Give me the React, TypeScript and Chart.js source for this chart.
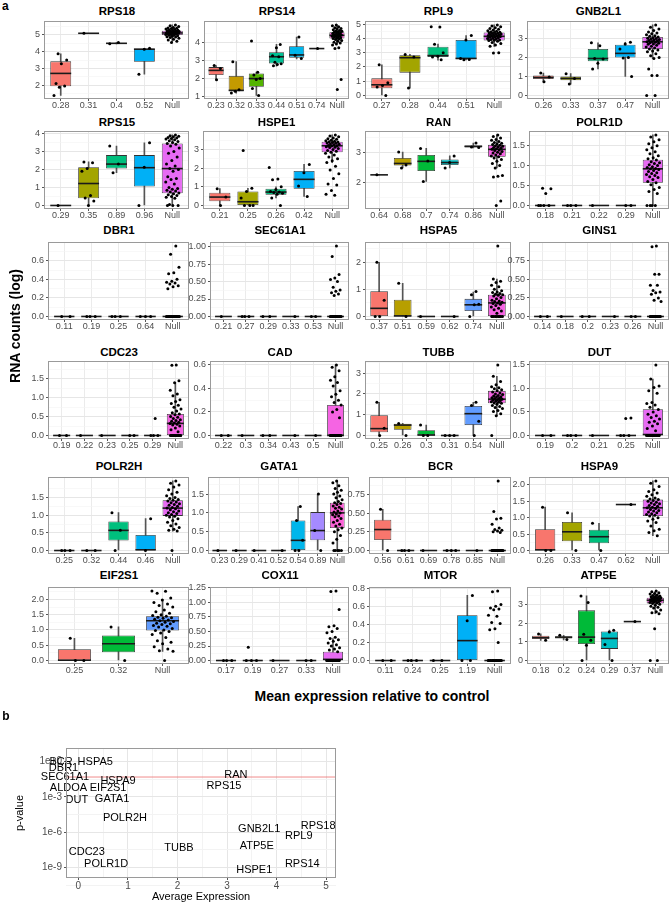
import React, { useEffect, useRef } from 'react';
import { Chart, registerables } from 'chart.js';
Chart.register(...registerables);

const FONT = "'Liberation Sans', Arial, Helvetica, sans-serif";

// ---------------- panel a data ----------------
const RPS18_groups = ['0.28', '0.31', '0.4', '0.52', 'Null'];
const RPS18_ticks = [2, 3, 4, 5];
const RPS18_boxes = [[1.38, 1.93, 2.7, 3.42, 3.87], [5.1, 5.1, 5.1, 5.1, 5.1], [4.47, 4.49, 4.5, 4.52, 4.55], [2.65, 3.4, 4.15, 4.17, 4.2], [4.6, 5.0, 5.12, 5.25, 5.6]];
const RPS18_points = [[3.87, 3.5, 3.28, 2.1, 1.95, 1.87, 1.38], [5.1], [4.47, 4.55], [4.2, 4.15, 2.65],
  [5.6, 5.55, 5.5, 5.45, 5.42, 5.4, 5.38, 5.35, 5.33, 5.3, 5.28, 5.27, 5.25, 5.24, 5.22, 5.2, 5.19, 5.18, 5.16, 5.15, 5.13, 5.12, 5.11, 5.1, 5.08, 5.07, 5.05, 5.03, 5.02, 5.0, 4.98, 4.95, 4.92, 4.9, 4.88, 4.85, 4.8, 4.75, 4.7, 4.62, 4.55]];

const RPS14_groups = ['0.23', '0.32', '0.33', '0.44', '0.51', '0.74', 'Null'];
const RPS14_ticks = [1, 2, 3, 4];
const RPS14_boxes = [[1.93, 2.2, 2.45, 2.63, 2.72], [1.2, 1.3, 1.35, 2.15, 2.93], [1.07, 1.55, 2.0, 2.28, 2.35], [2.68, 2.83, 3.2, 3.45, 3.88], [3.08, 3.15, 3.3, 3.78, 4.28], [3.65, 3.65, 3.65, 3.65, 3.65], [3.9, 4.2, 4.38, 4.55, 4.95]];
const RPS14_points = [[2.72, 2.55, 1.93], [2.93, 1.38, 1.3, 1.2], [4.07, 2.35, 2.2, 2.0, 1.95, 1.45, 1.07], [3.88, 3.7, 3.25, 3.2, 2.9, 2.82, 2.78, 2.7], [4.28, 3.28, 3.1], [3.65],
  [4.95, 4.9, 4.85, 4.8, 4.75, 4.72, 4.68, 4.65, 4.62, 4.6, 4.57, 4.55, 4.52, 4.5, 4.48, 4.45, 4.43, 4.4, 4.39, 4.38, 4.36, 4.35, 4.33, 4.3, 4.28, 4.25, 4.22, 4.2, 4.17, 4.15, 4.1, 4.05, 4.0, 3.95, 3.9, 3.85, 3.7, 3.65, 1.95, 1.4]];

const RPL9_groups = ['0.27', '0.28', '0.44', '0.51', 'Null'];
const RPL9_ticks = [0, 1, 2, 3, 4, 5];
const RPL9_boxes = [[0, 0.5, 0.75, 1.2, 2.15], [0.52, 1.6, 2.65, 2.82, 2.88], [2.48, 2.7, 2.8, 3.42, 3.6], [2.5, 2.55, 2.6, 3.9, 4.2], [3.45, 3.85, 4.15, 4.42, 4.95]];
const RPL9_points = [[2.15, 0.9, 0.7, 0.6, 0], [2.88, 2.7, 0.52], [4.82, 4.8, 3.6, 3.0, 2.75, 2.7, 2.5], [4.2, 3.9, 2.6, 2.52, 2.5],
  [4.95, 4.88, 4.82, 4.75, 4.7, 4.65, 4.6, 4.55, 4.5, 4.47, 4.44, 4.42, 4.4, 4.37, 4.35, 4.32, 4.3, 4.27, 4.25, 4.22, 4.2, 4.18, 4.15, 4.13, 4.1, 4.08, 4.05, 4.02, 4.0, 3.97, 3.93, 3.9, 3.87, 3.85, 3.8, 3.72, 3.65, 3.55, 3.45, 3.0, 2.98]];

const GNB2L1_groups = ['0.26', '0.33', '0.37', '0.47', 'Null'];
const GNB2L1_ticks = [0, 1, 2, 3];
const GNB2L1_boxes = [[0.72, 0.87, 0.95, 1.05, 1.18], [0.6, 0.8, 0.9, 1.0, 1.15], [1.4, 1.8, 1.95, 2.45, 2.78], [1.0, 2.0, 2.22, 2.68, 2.8], [1.95, 2.45, 2.83, 3.08, 3.72]];
const GNB2L1_points = [[1.18, 0.97, 0.72], [1.15, 0.9, 0.6], [2.78, 2.62, 1.95, 1.92, 1.7, 1.4], [2.8, 2.72, 2.45, 2.0, 1.97, 1.0],
  [3.72, 3.6, 3.5, 3.42, 3.35, 3.3, 3.25, 3.2, 3.15, 3.12, 3.08, 3.05, 3.02, 3.0, 2.97, 2.95, 2.92, 2.9, 2.88, 2.85, 2.83, 2.8, 2.78, 2.75, 2.72, 2.7, 2.65, 2.6, 2.55, 2.5, 2.45, 2.4, 2.35, 2.3, 2.2, 2.1, 2.0, 1.95, 1.4, 1.05, 1.05, 0, 0]];

const RPS15_groups = ['0.29', '0.35', '0.89', '0.96', 'Null'];
const RPS15_ticks = [0, 1, 2, 3, 4];
const RPS15_boxes = [[0, 0, 0, 0, 0], [0, 0.4, 1.22, 2.13, 2.42], [1.82, 2.05, 2.3, 2.8, 3.3], [0, 1.05, 2.1, 2.8, 3.48], [0, 0.68, 2.05, 3.45, 3.92]];
const RPS15_points = [[0], [2.42, 2.38, 2.05, 1.9, 0.55, 0.42, 0.25, 0], [3.3, 2.3, 1.82], [3.48, 2.12, 0],
  [3.92, 3.88, 3.85, 3.82, 3.78, 3.75, 3.72, 3.7, 3.65, 3.6, 3.55, 3.5, 3.45, 3.4, 3.3, 3.2, 3.0, 2.9, 2.7, 2.5, 2.3, 2.2, 2.05, 2.0, 1.9, 1.6, 1.5, 1.45, 1.3, 1.2, 1.0, 0.95, 0.9, 0.85, 0.8, 0.75, 0.7, 0.65, 0.6, 0.55, 0.5, 0.45, 0.4, 0.05, 0, 0, 0]];

const HSPE1_groups = ['0.21', '0.25', '0.26', '0.42', 'Null'];
const HSPE1_ticks = [0, 1, 2, 3];
const HSPE1_boxes = [[0, 0.22, 0.45, 0.68, 0.9], [0, 0, 0.2, 0.75, 0.92], [0.4, 0.57, 0.72, 0.9, 1.0], [0.48, 0.9, 1.4, 1.85, 2.2], [2.3, 2.85, 3.2, 3.42, 3.78]];
const HSPE1_points = [[0.9, 0.45, 0], [2.95, 0.92, 0.75, 0.4, 0, 0, 0], [2.03, 1.42, 1.38, 1.0, 0.85, 0.75, 0.72, 0.7, 0.65, 0.6, 0.4, 0], [2.2, 1.75, 1.05, 0.48],
  [3.78, 3.72, 3.68, 3.62, 3.58, 3.55, 3.5, 3.47, 3.44, 3.42, 3.4, 3.37, 3.35, 3.33, 3.3, 3.28, 3.25, 3.22, 3.2, 3.18, 3.15, 3.12, 3.1, 3.05, 3.0, 2.95, 2.9, 2.85, 2.8, 2.7, 2.6, 2.5, 2.4, 2.3, 2.1, 1.9, 1.7, 1.45, 1.15, 1.1, 0.8, 0.6, 0.55]];

const RAN_groups = ['0.64', '0.68', '0.7', '0.74', '0.86', 'Null'];
const RAN_ticks = [2, 3];
const RAN_boxes = [[2.27, 2.27, 2.27, 2.27, 2.27], [2.5, 2.58, 2.65, 2.83, 3.03], [2.05, 2.4, 2.72, 2.93, 3.15], [2.5, 2.6, 2.68, 2.78, 2.9], [3.17, 3.18, 3.22, 3.25, 3.33], [2.5, 2.87, 3.12, 3.27, 3.6]];
const RAN_points = [[2.27], [3.03, 2.6, 2.5], [3.15, 2.73, 2.05], [2.9, 2.68, 2.5], [3.33, 3.2, 3.18],
  [3.6, 3.55, 3.5, 3.45, 3.42, 3.38, 3.35, 3.32, 3.3, 3.28, 3.26, 3.24, 3.22, 3.2, 3.18, 3.16, 3.14, 3.12, 3.1, 3.08, 3.05, 3.02, 3.0, 2.97, 2.93, 2.9, 2.87, 2.83, 2.78, 2.72, 2.65, 2.58, 2.5, 2.25, 2.22, 2.2, 1.4, 1.25]];

const POLR1D_groups = ['0.18', '0.21', '0.22', '0.29', 'Null'];
const POLR1D_ticks = [0, 0.5, 1, 1.5];
const POLR1D_boxes = [[0, 0, 0, 0, 0], [0, 0, 0, 0, 0], [0, 0, 0, 0, 0], [0, 0, 0, 0, 0], [0, 0.57, 0.92, 1.15, 1.77]];
const POLR1D_points = [[0.43, 0.42, 0.3, 0, 0, 0, 0], [0, 0, 0], [0], [0, 0],
  [1.77, 1.72, 1.65, 1.6, 1.55, 1.5, 1.45, 1.4, 1.35, 1.3, 1.25, 1.2, 1.17, 1.14, 1.1, 1.07, 1.05, 1.02, 1.0, 0.97, 0.95, 0.93, 0.92, 0.9, 0.88, 0.85, 0.82, 0.8, 0.78, 0.75, 0.72, 0.7, 0.65, 0.6, 0.57, 0.52, 0.45, 0.4, 0.35, 0.3, 0, 0, 0, 0]];

const DBR1_groups = ['0.11', '0.19', '0.25', '0.64', 'Null'];
const DBR1_ticks = [0, 0.2, 0.4, 0.6, 0.8];
const DBR1_boxes = [[0, 0, 0, 0, 0], [0, 0, 0, 0, 0], [0, 0, 0, 0, 0], [0, 0, 0, 0, 0], [0, 0, 0, 0, 0]];
const DBR1_points = [[0, 0], [0, 0, 0], [0, 0, 0], [0, 0, 0],
  [0.76, 0.67, 0.53, 0.47, 0.46, 0.4, 0.38, 0.37, 0.36, 0.35, 0.33, 0.32, 0.3, 0, 0, 0, 0, 0, 0, 0, 0, 0, 0, 0, 0, 0, 0, 0, 0, 0, 0]];

const SEC61A1_groups = ['0.21', '0.27', '0.29', '0.33', '0.53', 'Null'];
const SEC61A1_ticks = [0, 0.25, 0.5, 0.75, 1];
const SEC61A1_boxes = [[0, 0, 0, 0, 0], [0, 0, 0, 0, 0], [0, 0, 0, 0, 0], [0, 0, 0, 0, 0], [0, 0, 0, 0, 0], [0, 0, 0, 0, 0]];
const SEC61A1_points = [[0], [0, 0, 0], [0, 0], [0], [0, 0],
  [1.01, 0.86, 0.6, 0.55, 0.53, 0.5, 0.42, 0.38, 0.36, 0.34, 0.32, 0.3, 0, 0, 0, 0, 0, 0, 0, 0, 0, 0, 0, 0, 0, 0, 0, 0, 0, 0]];

const HSPA5_groups = ['0.37', '0.51', '0.59', '0.62', '0.74', 'Null'];
const HSPA5_ticks = [0, 1, 2];
const HSPA5_boxes = [[0, 0, 0.3, 0.93, 2.0], [0, 0, 0.02, 0.62, 1.22], [0, 0, 0, 0, 0], [0, 0, 0, 0, 0], [0, 0.2, 0.43, 0.65, 0.9], [0, 0, 0.5, 0.8, 1.38]];
const HSPA5_points = [[2.0, 0.6, 0, 0], [1.22, 0], [0], [0], [0.92, 0.8, 0.45, 0.43, 0],
  [2.6, 1.38, 1.3, 1.25, 1.15, 1.1, 1.0, 0.95, 0.9, 0.88, 0.85, 0.82, 0.8, 0.78, 0.75, 0.7, 0.65, 0.6, 0.57, 0.55, 0.52, 0.5, 0.48, 0.45, 0.4, 0.35, 0.3, 0.25, 0.2, 0.12, 0, 0, 0, 0, 0, 0, 0, 0, 0, 0]];

const GINS1_groups = ['0.14', '0.18', '0.2', '0.23', '0.26', 'Null'];
const GINS1_ticks = [0, 0.25, 0.5, 0.75, 1];
const GINS1_boxes = [[0, 0, 0, 0, 0], [0, 0, 0, 0, 0], [0, 0, 0, 0, 0], [0, 0, 0, 0, 0], [0, 0, 0, 0, 0], [0, 0, 0, 0, 0]];
const GINS1_points = [[0, 0], [0], [0, 0], [0], [0, 0],
  [0.95, 0.94, 0.57, 0.57, 0.42, 0.42, 0.35, 0.33, 0.32, 0.3, 0.25, 0.22, 0.2, 0, 0, 0, 0, 0, 0, 0, 0, 0, 0, 0, 0, 0, 0, 0, 0, 0]];

const CDC23_groups = ['0.19', '0.22', '0.23', '0.25', '0.29', 'Null'];
const CDC23_ticks = [0, 0.5, 1, 1.5];
const CDC23_boxes = [[0, 0, 0, 0, 0], [0, 0, 0, 0, 0], [0, 0, 0, 0, 0], [0, 0, 0, 0, 0], [0, 0, 0, 0, 0], [0, 0, 0.32, 0.57, 1.4]];
const CDC23_points = [[0, 0], [0], [0], [0, 0], [0.45, 0, 0, 0],
  [1.87, 1.86, 1.45, 1.4, 1.2, 1.1, 1.05, 0.95, 0.9, 0.85, 0.8, 0.75, 0.7, 0.65, 0.6, 0.57, 0.55, 0.5, 0.48, 0.45, 0.42, 0.4, 0.38, 0.35, 0.33, 0.32, 0.3, 0.28, 0.25, 0.2, 0.15, 0.1, 0, 0, 0, 0, 0, 0, 0, 0, 0, 0, 0, 0, 0, 0]];

const CAD_groups = ['0.22', '0.3', '0.34', '0.43', '0.5', 'Null'];
const CAD_ticks = [0, 0.2, 0.4, 0.6];
const CAD_boxes = [[0, 0, 0, 0, 0], [0, 0, 0, 0, 0], [0, 0, 0, 0, 0], [0, 0, 0, 0, 0], [0, 0, 0, 0, 0], [0, 0, 0, 0.26, 0.6]];
const CAD_points = [[0, 0], [0], [0, 0], [0], [0],
  [0.6, 0.58, 0.55, 0.5, 0.47, 0.45, 0.42, 0.38, 0.35, 0.33, 0.3, 0.28, 0.26, 0.22, 0.2, 0.15, 0, 0, 0, 0, 0, 0, 0, 0, 0, 0, 0, 0, 0, 0, 0, 0, 0, 0, 0, 0]];

const TUBB_groups = ['0.25', '0.26', '0.3', '0.31', '0.54', 'Null'];
const TUBB_ticks = [0, 1, 2, 3];
const TUBB_boxes = [[0, 0.15, 0.33, 0.98, 1.6], [0, 0.27, 0.5, 0.57, 0.58], [0, 0, 0.02, 0.25, 0.5], [0, 0, 0, 0, 0], [0, 0.5, 1.05, 1.42, 1.6], [0.95, 1.55, 1.75, 2.15, 2.85]];
const TUBB_points = [[1.6, 0.35, 0], [0.58, 0], [0.5, 0, 0], [0, 0, 0], [1.6, 1.45, 0.68, 0],
  [3.4, 2.85, 2.6, 2.45, 2.35, 2.3, 2.25, 2.2, 2.15, 2.1, 2.05, 2.0, 1.97, 1.93, 1.9, 1.87, 1.85, 1.82, 1.8, 1.78, 1.75, 1.72, 1.7, 1.68, 1.65, 1.62, 1.6, 1.57, 1.55, 1.5, 1.45, 1.4, 1.35, 1.3, 1.2, 1.15, 1.05, 0.95, 0]];

const DUT_groups = ['0.19', '0.2', '0.21', '0.25', 'Null'];
const DUT_ticks = [0, 0.5, 1, 1.5];
const DUT_boxes = [[0, 0, 0, 0, 0], [0, 0, 0, 0, 0], [0, 0, 0, 0, 0], [0, 0, 0, 0, 0], [0, 0, 0.02, 0.56, 1.2]];
const DUT_points = [[0, 0], [0, 0, 0], [0], [0.37, 0.36, 0, 0, 0],
  [1.5, 1.2, 1.05, 1.02, 0.95, 0.9, 0.7, 0.68, 0.65, 0.6, 0.55, 0.5, 0.45, 0.42, 0.38, 0.35, 0.3, 0.28, 0.25, 0.2, 0.15, 0.1, 0, 0, 0, 0, 0, 0, 0, 0, 0, 0, 0, 0, 0, 0, 0, 0]];

const POLR2H_groups = ['0.25', '0.32', '0.44', '0.46', 'Null'];
const POLR2H_ticks = [0, 0.5, 1, 1.5];
const POLR2H_boxes = [[0, 0, 0, 0, 0], [0, 0, 0, 0, 0], [0, 0.28, 0.57, 0.82, 1.07], [0, 0, 0.02, 0.44, 0.9], [0.55, 0.98, 1.2, 1.42, 1.97]];
const POLR2H_points = [[0, 0, 0], [0, 0], [1.07, 0.57, 0], [0.9, 0],
  [1.97, 1.9, 1.85, 1.8, 1.72, 1.65, 1.6, 1.55, 1.5, 1.47, 1.44, 1.42, 1.4, 1.37, 1.35, 1.32, 1.3, 1.28, 1.25, 1.22, 1.2, 1.18, 1.15, 1.12, 1.1, 1.07, 1.05, 1.02, 1.0, 0.97, 0.95, 0.9, 0.85, 0.8, 0.75, 0.7, 0.65, 0.6, 0.57, 0.55, 0]];

const GATA1_groups = ['0.23', '0.29', '0.41', '0.52', '0.54', '0.89', 'Null'];
const GATA1_ticks = [0, 0.5, 1, 1.5];
const GATA1_boxes = [[0, 0, 0, 0, 0], [0, 0, 0, 0, 0], [0, 0, 0, 0, 0], [0, 0, 0, 0, 0], [0, 0, 0.27, 0.8, 1.17], [0, 0.27, 0.53, 1.02, 1.5], [0, 0.6, 1.0, 1.27, 1.85]];
const GATA1_points = [[0], [0], [0], [0], [1.17, 0.8, 0.27, 0, 0], [1.5, 0.53, 0],
  [1.85, 1.8, 1.72, 1.65, 1.6, 1.55, 1.5, 1.45, 1.4, 1.35, 1.3, 1.27, 1.25, 1.22, 1.18, 1.15, 1.12, 1.1, 1.05, 1.02, 1.0, 0.97, 0.95, 0.92, 0.9, 0.85, 0.8, 0.75, 0.7, 0.65, 0.6, 0.55, 0.5, 0.4, 0.3, 0.2, 0, 0, 0, 0, 0]];

const BCR_groups = ['0.56', '0.61', '0.69', '0.78', '0.85', 'Null'];
const BCR_ticks = [0, 0.25, 0.5, 0.75];
const BCR_boxes = [[0, 0.14, 0.28, 0.41, 0.55], [0, 0, 0, 0, 0], [0, 0, 0, 0, 0], [0, 0, 0, 0, 0], [0, 0, 0, 0, 0], [0, 0, 0, 0, 0]];
const BCR_points = [[0.55, 0], [0, 0, 0], [0], [0, 0, 0], [0],
  [0.93, 0.52, 0.43, 0.42, 0.35, 0.3, 0.28, 0.27, 0.26, 0.25, 0.24, 0, 0, 0, 0, 0, 0, 0, 0, 0, 0, 0, 0, 0, 0, 0, 0, 0, 0, 0, 0]];

const HSPA9_groups = ['0.26', '0.33', '0.47', '0.62', 'Null'];
const HSPA9_ticks = [0, 0.5, 1, 1.5, 2];
const HSPA9_boxes = [[0, 0, 0.02, 0.65, 1.32], [0, 0.28, 0.57, 0.87, 1.15], [0, 0.22, 0.42, 0.63, 0.83], [1.4, 1.4, 1.4, 1.4, 1.4], [0.45, 1.05, 1.3, 1.55, 2.12]];
const HSPA9_points = [[1.32, 0, 0], [1.15, 0], [0.83, 0], [1.4],
  [2.12, 2.05, 1.95, 1.85, 1.8, 1.75, 1.7, 1.65, 1.6, 1.57, 1.55, 1.52, 1.5, 1.47, 1.45, 1.42, 1.4, 1.37, 1.35, 1.32, 1.3, 1.28, 1.25, 1.22, 1.2, 1.17, 1.15, 1.12, 1.1, 1.07, 1.05, 1.0, 0.95, 0.9, 0.85, 0.75, 0.65, 0.6, 0.55, 0.45]];

const EIF2S1_groups = ['0.25', '0.32', 'Null'];
const EIF2S1_ticks = [0, 0.5, 1, 1.5, 2];
const EIF2S1_boxes = [[0, 0.01, 0.01, 0.37, 0.73], [0, 0.27, 0.55, 0.82, 1.1], [0.3, 0.98, 1.3, 1.45, 2.0]];
const EIF2S1_points = [[0.73, 0, 0], [1.1, 0],
  [2.28, 2.27, 2.2, 2.05, 1.98, 1.9, 1.85, 1.8, 1.75, 1.65, 1.6, 1.55, 1.5, 1.47, 1.45, 1.42, 1.4, 1.38, 1.35, 1.33, 1.3, 1.28, 1.25, 1.22, 1.2, 1.18, 1.15, 1.12, 1.1, 1.05, 1.0, 0.98, 0.95, 0.9, 0.85, 0.75, 0.65, 0.6, 0.55, 0.45, 0.38, 0.32, 0.3, 0]];

const COX11_groups = ['0.17', '0.19', '0.27', '0.33', 'Null'];
const COX11_ticks = [0, 0.25, 0.5, 0.75, 1, 1.25];
const COX11_boxes = [[0, 0, 0, 0, 0], [0, 0, 0, 0, 0], [0, 0, 0, 0, 0], [0, 0, 0, 0, 0], [0, 0, 0.02, 0.15, 0.38]];
const COX11_points = [[0, 0, 0], [0.23, 0, 0, 0], [0], [0, 0],
  [1.2, 1.19, 0.88, 0.6, 0.58, 0.55, 0.5, 0.48, 0.4, 0.38, 0.36, 0.33, 0.3, 0.27, 0.25, 0.22, 0.2, 0.18, 0.15, 0, 0, 0, 0, 0, 0, 0, 0, 0, 0, 0, 0, 0, 0, 0, 0, 0, 0, 0]];

const MTOR_groups = ['0.11', '0.24', '0.25', '1.19', 'Null'];
const MTOR_ticks = [0, 0.2, 0.4, 0.6, 0.8];
const MTOR_boxes = [[0, 0, 0, 0, 0], [0, 0, 0, 0, 0], [0, 0, 0, 0, 0], [0, 0, 0.22, 0.5, 0.72], [0, 0, 0, 0, 0]];
const MTOR_points = [[0, 0], [0, 0, 0], [0, 0], [0.72, 0.44, 0, 0],
  [0.77, 0.76, 0.62, 0.6, 0.58, 0.57, 0.56, 0.5, 0.49, 0.42, 0.41, 0.35, 0.34, 0.2, 0, 0, 0, 0, 0, 0, 0, 0, 0, 0, 0, 0, 0, 0, 0, 0]];

const ATP5E_groups = ['0.18', '0.2', '0.24', '0.29', '0.37', 'Null'];
const ATP5E_ticks = [0, 1, 2, 3];
const ATP5E_boxes = [[1.08, 1.15, 1.22, 1.32, 1.42], [1.1, 1.17, 1.25, 1.28, 1.35], [0, 0.88, 1.25, 2.68, 3.45], [0, 0.62, 1.18, 1.55, 1.62], [2.08, 2.08, 2.08, 2.08, 2.08], [2.5, 3.05, 3.22, 3.35, 3.7]];
const ATP5E_points = [[1.42, 1.08], [1.35, 1.12], [3.45, 3.1, 1.4, 1.08, 0.82, 0], [1.62, 1.52, 0.85, 0], [2.08],
  [3.72, 3.68, 3.62, 3.58, 3.55, 3.5, 3.47, 3.44, 3.42, 3.4, 3.38, 3.36, 3.35, 3.33, 3.31, 3.29, 3.27, 3.25, 3.23, 3.22, 3.2, 3.18, 3.16, 3.14, 3.12, 3.1, 3.07, 3.05, 3.0, 2.95, 2.9, 2.85, 2.8, 2.7, 2.6, 2.55, 2.5, 1.7, 0, 0]];

// ---------------- panel b data ----------------
const GENES_B = ['BCR', 'HSPA5', 'DBR1', 'SEC61A1', 'ALDOA', 'HSPA9', 'EIF2S1', 'RAN', 'RPS15', 'DUT', 'GATA1', 'POLR2H', 'GNB2L1', 'RPS18', 'RPL9', 'ATP5E', 'TUBB', 'CDC23', 'POLR1D', 'HSPE1', 'RPS14'];
const AVG_EXPR = [-0.35, 0.34, -0.3, -0.27, -0.2, 0.8, 0.6, 3.18, 2.94, -0.03, 0.68, 0.94, 3.65, 4.84, 4.45, 3.6, 2.03, 0.17, 0.56, 3.55, 4.52];
const P_VALUES = [1, 1, 0.32, 0.051, 0.0059, 0.023, 0.0059, 0.079, 0.0089, 5.6e-4, 6.8e-4, 1.6e-5, 1.8e-6, 3.3e-6, 4.6e-7, 6.3e-8, 4.3e-8, 2.0e-8, 1.8e-9, 5.6e-10, 1.8e-9];
const P_THRESHOLD = 0.05;
const X_TICKS_B = [0, 1, 2, 3, 4, 5];
const Y_TICKS_B = [1, 1e-3, 1e-6, 1e-9];

// ---------------- layout ----------------
const HUE: Record<number, string[]> = {
  3: ['#F8766D', '#00BA38', '#619CFF'],
  4: ['#F8766D', '#7CAE00', '#00BFC4', '#C77CFF'],
  5: ['#F8766D', '#A3A500', '#00BF7D', '#00B0F6', '#E76BF3'],
  6: ['#F8766D', '#B79F00', '#00BA38', '#00BFC4', '#619CFF', '#F564E3'],
  7: ['#F8766D', '#C49A00', '#53B400', '#00C094', '#00B6EB', '#A58AFF', '#FB61D7'],
};

type FacetDef = { title: string; groups: string[]; ticks: number[]; boxes: number[][]; points: number[][] };
const FACETS: FacetDef[] = [
  { title: 'RPS18', groups: RPS18_groups, ticks: RPS18_ticks, boxes: RPS18_boxes, points: RPS18_points },
  { title: 'RPS14', groups: RPS14_groups, ticks: RPS14_ticks, boxes: RPS14_boxes, points: RPS14_points },
  { title: 'RPL9', groups: RPL9_groups, ticks: RPL9_ticks, boxes: RPL9_boxes, points: RPL9_points },
  { title: 'GNB2L1', groups: GNB2L1_groups, ticks: GNB2L1_ticks, boxes: GNB2L1_boxes, points: GNB2L1_points },
  { title: 'RPS15', groups: RPS15_groups, ticks: RPS15_ticks, boxes: RPS15_boxes, points: RPS15_points },
  { title: 'HSPE1', groups: HSPE1_groups, ticks: HSPE1_ticks, boxes: HSPE1_boxes, points: HSPE1_points },
  { title: 'RAN', groups: RAN_groups, ticks: RAN_ticks, boxes: RAN_boxes, points: RAN_points },
  { title: 'POLR1D', groups: POLR1D_groups, ticks: POLR1D_ticks, boxes: POLR1D_boxes, points: POLR1D_points },
  { title: 'DBR1', groups: DBR1_groups, ticks: DBR1_ticks, boxes: DBR1_boxes, points: DBR1_points },
  { title: 'SEC61A1', groups: SEC61A1_groups, ticks: SEC61A1_ticks, boxes: SEC61A1_boxes, points: SEC61A1_points },
  { title: 'HSPA5', groups: HSPA5_groups, ticks: HSPA5_ticks, boxes: HSPA5_boxes, points: HSPA5_points },
  { title: 'GINS1', groups: GINS1_groups, ticks: GINS1_ticks, boxes: GINS1_boxes, points: GINS1_points },
  { title: 'CDC23', groups: CDC23_groups, ticks: CDC23_ticks, boxes: CDC23_boxes, points: CDC23_points },
  { title: 'CAD', groups: CAD_groups, ticks: CAD_ticks, boxes: CAD_boxes, points: CAD_points },
  { title: 'TUBB', groups: TUBB_groups, ticks: TUBB_ticks, boxes: TUBB_boxes, points: TUBB_points },
  { title: 'DUT', groups: DUT_groups, ticks: DUT_ticks, boxes: DUT_boxes, points: DUT_points },
  { title: 'POLR2H', groups: POLR2H_groups, ticks: POLR2H_ticks, boxes: POLR2H_boxes, points: POLR2H_points },
  { title: 'GATA1', groups: GATA1_groups, ticks: GATA1_ticks, boxes: GATA1_boxes, points: GATA1_points },
  { title: 'BCR', groups: BCR_groups, ticks: BCR_ticks, boxes: BCR_boxes, points: BCR_points },
  { title: 'HSPA9', groups: HSPA9_groups, ticks: HSPA9_ticks, boxes: HSPA9_boxes, points: HSPA9_points },
  { title: 'EIF2S1', groups: EIF2S1_groups, ticks: EIF2S1_ticks, boxes: EIF2S1_boxes, points: EIF2S1_points },
  { title: 'COX11', groups: COX11_groups, ticks: COX11_ticks, boxes: COX11_boxes, points: COX11_points },
  { title: 'MTOR', groups: MTOR_groups, ticks: MTOR_ticks, boxes: MTOR_boxes, points: MTOR_points },
  { title: 'ATP5E', groups: ATP5E_groups, ticks: ATP5E_ticks, boxes: ATP5E_boxes, points: ATP5E_points },
];

const COL_RIGHT = [190, 350, 512, 670];
const PANEL_LEFT = [
  [44, 204, 365, 527],
  [44, 203, 365, 529],
  [48, 210, 365, 529],
  [48, 210, 365, 529],
  [48, 208, 369, 529],
  [48, 210, 369, 527],
];
const ROW_TOP = [20, 130, 241, 360, 476, 586];
const ROW_BOTTOM = [99, 209, 320, 439, 554, 664];
const ROW_TITLE = [12, 123, 231, 353, 467, 576];

const jit = (k: number) => ((((k + 0.5) * 0.6180339887) % 1) - 0.5) * 0.5;

function Facet({ f, left, right, top, bottom }: { f: FacetDef; left: number; right: number; top: number; bottom: number }) {
  const ref = useRef<HTMLCanvasElement>(null);
  const AX = 30, PADT = 6, XH = 14, PADR = 3;
  const w = right - left + AX + PADR;
  const h = bottom - top + PADT + XH;
  useEffect(() => {
    const n = f.groups.length;
    const colors = HUE[n];
    const vals = [...f.points.flat(), ...f.boxes.flat()];
    const lo = Math.min(...vals), hi = Math.max(...vals);
    const span = hi - lo || 1;
    const ymin = lo - span * 0.05, ymax = hi + span * 0.05;
    const dec = Math.max(...f.ticks.map((t) => (String(t).split('.')[1] || '').length));
    const majors = f.ticks.filter((t) => t >= ymin - 1e-9 && t <= ymax + 1e-9);
    const step = f.ticks[1] - f.ticks[0];
    const minors: number[] = [];
    for (let i = -1; i < f.ticks.length; i++) {
      const m = i < 0 ? f.ticks[0] - step / 2 : f.ticks[i] + step / 2;
      if (m > ymin && m < ymax) minors.push(m);
    }
    const isMajor = (v: number) => majors.some((t) => Math.abs(t - v) < 1e-9);
    const pts: { x: number; y: number }[] = [];
    f.points.forEach((arr, gi) => arr.forEach((y, k) => pts.push({ x: gi + jit(k + gi * 3), y })));

    const boxPlugin = {
      id: 'boxExtras',
      afterDatasetDraw(chart: any, args: any) {
        if (args.index !== 1) return;
        const ctx = chart.ctx;
        const ys = chart.scales.y;
        ctx.save();
        ctx.strokeStyle = '#1a1a1a';
        ctx.lineWidth = 1.6;
        args.meta.data.forEach((el: any, i: number) => {
          const p = el.getProps(['x', 'width'], true);
          const y = ys.getPixelForValue(f.boxes[i][2]);
          ctx.beginPath();
          ctx.moveTo(p.x - p.width / 2, y);
          ctx.lineTo(p.x + p.width / 2, y);
          ctx.stroke();
        });
        ctx.restore();
      },
      afterDraw(chart: any) {
        const { left: l, top: t, right: r, bottom: b } = chart.chartArea;
        const ctx = chart.ctx;
        ctx.save();
        ctx.strokeStyle = '#9a9a9a';
        ctx.lineWidth = 1;
        ctx.strokeRect(Math.round(l) + 0.5, Math.round(t) + 0.5, Math.round(r - l) - 1, Math.round(b - t) - 1);
        ctx.restore();
      },
    };

    const tickFont = { size: 9, family: FONT };
    const chart = new Chart(ref.current as HTMLCanvasElement, {
      type: 'bar',
      data: {
        datasets: [
          { type: 'scatter', data: pts, backgroundColor: '#000', pointRadius: 1.5, pointBorderWidth: 0, order: 0 } as any,
          {
            type: 'bar', data: f.boxes.map((b, i) => ({ x: i, y: [b[1], b[3]] })), backgroundColor: colors,
            borderColor: '#333333', borderWidth: 0.8, borderSkipped: false, grouped: false,
            categoryPercentage: 1, barPercentage: 0.75, order: 1,
          } as any,
          {
            type: 'bar', data: f.boxes.map((b, i) => ({ x: i, y: [b[0], b[4]] })), backgroundColor: '#555555',
            barThickness: 1, grouped: false, order: 2,
          } as any,
        ],
      },
      options: {
        animation: false, responsive: false, events: [],
        layout: { padding: { top: PADT, right: PADR, left: 0, bottom: 0 } },
        plugins: { legend: { display: false }, tooltip: { enabled: false }, title: { display: false } },
        scales: {
          x: {
            type: 'linear', min: -0.6, max: n - 0.4, offset: false,
            afterBuildTicks: (s: any) => { s.ticks = f.groups.map((_, i) => ({ value: i })); },
            afterFit: (s: any) => { s.height = XH; },
            ticks: { callback: (v: any) => f.groups[Math.round(v)] ?? '', font: tickFont, color: '#4d4d4d', padding: -1, maxRotation: 0, autoSkip: false },
            grid: { color: '#ebebeb', tickColor: '#555', tickLength: 2, offset: false },
            border: { display: false },
          },
          y: {
            type: 'linear', min: ymin, max: ymax, beginAtZero: false,
            afterBuildTicks: (s: any) => { s.ticks = [...majors, ...minors].sort((a, b) => a - b).map((v) => ({ value: v })); },
            afterFit: (s: any) => { s.width = AX; },
            ticks: { callback: (v: any) => (isMajor(v) ? Number(v).toFixed(dec) : ''), font: tickFont, color: '#4d4d4d', padding: 2, autoSkip: false },
            grid: {
              color: (c: any) => (isMajor(c.tick.value) ? '#e6e6e6' : '#f3f3f3'),
              lineWidth: (c: any) => (isMajor(c.tick.value) ? 1 : 0.6),
              tickColor: (c: any) => (isMajor(c.tick.value) ? '#555' : 'rgba(0,0,0,0)'),
              tickLength: 2,
            },
            border: { display: false },
          },
        },
      } as any,
      plugins: [boxPlugin],
    });
    return () => chart.destroy();
  }, []);
  return (
    <canvas ref={ref} width={w} height={h}
      style={{ position: 'absolute', left: left - AX, top: top - PADT, width: w, height: h }} />
  );
}

function PanelB() {
  const ref = useRef<HTMLCanvasElement>(null);
  const W = 345, H = 170, TOP = 736;
  useEffect(() => {
    const logMajors = Y_TICKS_B.map((v) => Math.log10(v));
    const yMinorVals: number[] = [];
    for (let i = 0; i < logMajors.length - 1; i++) yMinorVals.push(Math.pow(10, (logMajors[i] + logMajors[i + 1]) / 2));
    yMinorVals.push(Math.pow(10, logMajors[logMajors.length - 1] - 1.5));
    const isMajY = (v: number) => Y_TICKS_B.some((t) => Math.abs(Math.log10(t) - Math.log10(v)) < 1e-6);
    const isMajX = (v: number) => X_TICKS_B.some((t) => Math.abs(t - v) < 1e-9);
    const xMinor = X_TICKS_B.slice(0, -1).map((t, i) => (t + X_TICKS_B[i + 1]) / 2);

    const labelPlugin = {
      id: 'geneLabels',
      beforeDatasetsDraw(chart: any) {
        const { left, right } = chart.chartArea;
        const y = chart.scales.y.getPixelForValue(P_THRESHOLD);
        const ctx = chart.ctx;
        ctx.save();
        ctx.strokeStyle = 'rgba(235,110,110,0.8)';
        ctx.lineWidth = 1;
        ctx.beginPath();
        ctx.moveTo(left, y);
        ctx.lineTo(right, y);
        ctx.stroke();
        ctx.restore();
      },
      afterDatasetsDraw(chart: any) {
        const meta = chart.getDatasetMeta(0);
        const ctx = chart.ctx;
        ctx.save();
        ctx.fillStyle = '#000';
        ctx.font = `11px ${FONT}`;
        ctx.textAlign = 'center';
        ctx.textBaseline = 'middle';
        meta.data.forEach((el: any, i: number) => ctx.fillText(GENES_B[i], el.x, el.y));
        ctx.restore();
      },
      afterDraw(chart: any) {
        const { left: l, top: t, right: r, bottom: b } = chart.chartArea;
        const ctx = chart.ctx;
        ctx.save();
        ctx.strokeStyle = '#9a9a9a';
        ctx.lineWidth = 1;
        ctx.strokeRect(Math.round(l) + 0.5, Math.round(t) + 0.5, Math.round(r - l) - 1, Math.round(b - t) - 1);
        ctx.restore();
      },
    };

    const tickFont = { size: 10, family: FONT };
    const chart = new Chart(ref.current as HTMLCanvasElement, {
      type: 'scatter',
      data: { datasets: [{ data: GENES_B.map((_, i) => ({ x: AVG_EXPR[i], y: P_VALUES[i] })), pointRadius: 0 }] },
      options: {
        animation: false, responsive: false, events: [],
        layout: { padding: { top: 12, right: 9, left: 0, bottom: 0 } },
        plugins: { legend: { display: false }, tooltip: { enabled: false } },
        scales: {
          x: {
            type: 'linear', min: -0.25, max: 5.2,
            afterBuildTicks: (s: any) => { s.ticks = [...X_TICKS_B, ...xMinor].sort((a, b) => a - b).map((v) => ({ value: v })); },
            afterFit: (s: any) => { s.height = 28; },
            ticks: { callback: (v: any) => (isMajX(v) ? String(v) : ''), font: tickFont, color: '#4d4d4d', padding: 0, maxRotation: 0, autoSkip: false },
            grid: {
              color: (c: any) => (isMajX(c.tick.value) ? '#e6e6e6' : '#f3f3f3'),
              tickColor: (c: any) => (isMajX(c.tick.value) ? '#555' : 'rgba(0,0,0,0)'),
              tickLength: 2,
            },
            border: { display: false },
            title: { display: true, text: 'Average Expression', font: { size: 11, family: FONT }, color: '#000', padding: { top: 0, bottom: 2.4 } },
          },
          y: {
            type: 'logarithmic', min: Math.pow(10, -9.9), max: Math.pow(10, 1.17),
            afterBuildTicks: (s: any) => { s.ticks = [...Y_TICKS_B, ...yMinorVals].sort((a, b) => a - b).map((v) => ({ value: v })); },
            afterFit: (s: any) => { s.width = 66; },
            ticks: {
              callback: (v: any) => {
                if (!isMajY(v)) return '';
                const e = Math.round(Math.log10(v));
                return `1e${e >= 0 ? '+' : ''}${e}`;
              },
              font: tickFont, color: '#4d4d4d', padding: 2, autoSkip: false,
            },
            grid: {
              color: (c: any) => (isMajY(c.tick.value) ? '#e6e6e6' : '#f3f3f3'),
              tickColor: (c: any) => (isMajY(c.tick.value) ? '#555' : 'rgba(0,0,0,0)'),
              tickLength: 2,
            },
            border: { display: false },
            title: { display: true, text: 'p-value', font: { size: 11, family: FONT }, color: '#000', padding: { top: 13.4, bottom: 0 } },
          },
        },
      } as any,
      plugins: [labelPlugin],
    });
    return () => chart.destroy();
  }, []);
  return <canvas ref={ref} width={W} height={H} style={{ position: 'absolute', left: 0, top: TOP, width: W, height: H }} />;
}

export default function App() {
  const txt = (s: React.CSSProperties): React.CSSProperties => ({ position: 'absolute', whiteSpace: 'nowrap', lineHeight: 1, ...s });
  return (
    <div style={{ position: 'absolute', left: 0, top: 0, width: 672, height: 906, background: '#fff', fontFamily: FONT, overflow: 'hidden' }}>
      <div style={txt({ left: 2, top: 0, fontSize: 12, fontWeight: 'bold' })}>a</div>
      {FACETS.map((f, idx) => {
        const r = Math.floor(idx / 4), c = idx % 4;
        const left = PANEL_LEFT[r][c], right = COL_RIGHT[c];
        return (
          <React.Fragment key={f.title}>
            <div style={txt({ left: (left + right) / 2, top: ROW_TITLE[r], transform: 'translate(-50%, -50%)', fontSize: 11.5, fontWeight: 'bold', color: '#000' })}>{f.title}</div>
            <Facet f={f} left={left} right={right} top={ROW_TOP[r]} bottom={ROW_BOTTOM[r]} />
          </React.Fragment>
        );
      })}
      <div style={txt({ left: 15, top: 326, transform: 'translate(-50%, -50%) rotate(-90deg)', fontSize: 14, fontWeight: 'bold' })}>RNA counts (log)</div>
      <div style={txt({ left: 372, top: 696, transform: 'translate(-50%, -50%)', fontSize: 14, fontWeight: 'bold' })}>Mean expression relative to control</div>
      <div style={txt({ left: 6, top: 716, transform: 'translate(-50%, -50%)', fontSize: 12, fontWeight: 'bold' })}>b</div>
      <PanelB />
    </div>
  );
}
